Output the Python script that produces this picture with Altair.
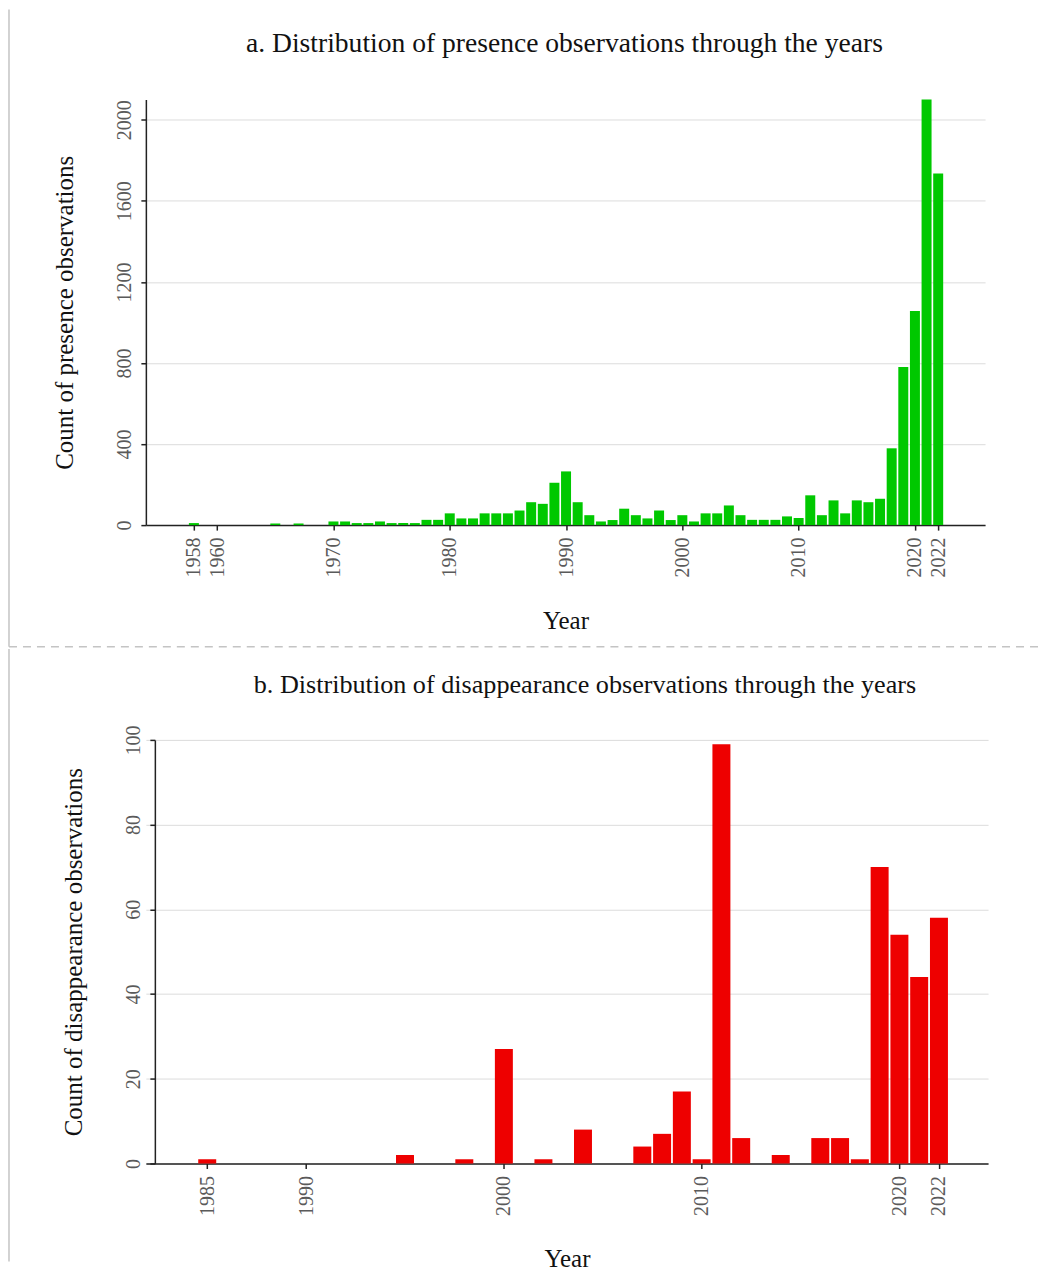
import altair as alt
import pandas as pd

# ---------------- data ----------------
pres_years = [1958, 1965, 1967, 1970, 1971, 1972, 1973, 1974, 1975, 1976, 1977, 1978, 1979,
              1980, 1981, 1982, 1983, 1984, 1985, 1986, 1987, 1988, 1989,
              1990, 1991, 1992, 1993, 1994, 1995, 1996, 1997, 1998, 1999,
              2000, 2001, 2002, 2003, 2004, 2005, 2006, 2007, 2008, 2009,
              2010, 2011, 2012, 2013, 2014, 2015, 2016, 2017, 2018, 2019,
              2020, 2021, 2022]
pres_counts = [10, 8, 8, 18, 18, 10, 10, 18, 10, 10, 10, 26, 26,
               58, 33, 33, 58, 58, 58, 72, 113, 105, 209,
               265, 113, 49, 18, 25, 81, 49, 33, 72, 25,
               49, 18, 58, 58, 97, 49, 26, 26, 26, 43,
               35, 147, 49, 122, 58, 122, 113, 130, 379, 780,
               1057, 2100, 1735]

dis_years = [1985, 1995, 1998, 2000, 2002, 2004, 2007, 2008, 2009, 2010,
             2011, 2012, 2014, 2016, 2017, 2018, 2019, 2020, 2021, 2022]
dis_counts = [1, 2, 1, 27, 1, 8, 4, 7, 17, 1,
              99, 6, 2, 6, 6, 1, 70, 54, 44, 58]

pres_xticks = [1958, 1960, 1970, 1980, 1990, 2000, 2010, 2020, 2022]
pres_yticks = [0, 400, 800, 1200, 1600, 2000]
dis_xticks = [1985, 1990, 2000, 2010, 2020, 2022]
dis_yticks = [0, 20, 40, 60, 80, 100]

title_a = "a. Distribution of presence observations through the years"
title_b = "b. Distribution of disappearance observations through the years"

pres_df = pd.DataFrame({"year": pres_years, "count": pres_counts})
dis_df = pd.DataFrame({"year": dis_years, "count": dis_counts})
one = pd.DataFrame({"k": [0]})

FONT = "Liberation Serif"
GREEN = "#00C800"
RED = "#EE0000"
BORDER = "#c4c4c4"

def yaxis(title, values, offset=0):
    return alt.Axis(values=values, title=title, labelAngle=270, labelAlign="center",
                    labelBaseline="bottom", labelPadding=6, grid=True, titlePadding=37,
                    format="d", offset=offset)

def xaxis(values):
    return alt.Axis(values=values, title="Year", labelAngle=270, labelAlign="right",
                    labelBaseline="middle", labelPadding=7, grid=False, titlePadding=31,
                    format="d")

# ---------------- panel a ----------------
W1, H1 = 840, 426
bars_a = alt.Chart(pres_df).mark_bar(color=GREEN, size=10).encode(
    x=alt.X("year:Q", scale=alt.Scale(domain=[1954.3, 2025.6], nice=False, zero=False),
            axis=xaxis(pres_xticks)),
    y=alt.Y("count:Q", scale=alt.Scale(domain=[0, 2100], nice=False),
            axis=yaxis("Count of presence observations", pres_yticks)),
)
border_a = alt.Chart(one).mark_rule(color=BORDER, strokeWidth=1.5).encode(
    x=alt.value(-137), y=alt.value(-90), y2=alt.value(547.7))
dash_a = alt.Chart(one).mark_rule(color=BORDER, strokeWidth=1.5, strokeDash=[8, 6]).encode(
    x=alt.value(-137), x2=alt.value(895), y=alt.value(547.7))
text_a = alt.Chart(one).mark_text(text=title_a, font=FONT, fontSize=27.6, color="#111111",
                                  align="center", baseline="middle").encode(
    x=alt.value(419), y=alt.value(-56))
panel_a = alt.layer(bars_a, border_a, dash_a, text_a).properties(width=W1, height=H1)

# ---------------- panel b ----------------
# plot area starts at the same x as panel a; the y axis is moved 9px into it
W2, H2 = 843, 424
bars_b = alt.Chart(dis_df).mark_bar(color=RED, size=18).encode(
    x=alt.X("year:Q", scale=alt.Scale(domain=[1982.15, 2024.23], nice=False, zero=False),
            axis=xaxis(dis_xticks)),
    y=alt.Y("count:Q", scale=alt.Scale(domain=[0, 100], nice=False),
            axis=yaxis("Count of disappearance observations", dis_yticks, offset=-9)),
)
border_b = alt.Chart(one).mark_rule(color=BORDER, strokeWidth=1.5).encode(
    x=alt.value(-137), y=alt.value(-91), y2=alt.value(522))
text_b = alt.Chart(one).mark_text(text=title_b, font=FONT, fontSize=26.2, color="#111111",
                                  align="center", baseline="middle").encode(
    x=alt.value(439.5), y=alt.value(-55))
panel_b = alt.layer(bars_b, border_b, text_b).properties(width=W2, height=H2)

chart = alt.vconcat(panel_a, panel_b, spacing=0).properties(
    padding=0, background="white"
).configure_view(stroke=None).configure_axis(
    domainColor="#222222", domainWidth=1.5, tickColor="#222222", tickWidth=1.5, tickSize=5,
    labelFont=FONT, labelFontSize=20, labelColor="#5a5a5a",
    titleFont=FONT, titleFontSize=25, titleFontWeight="normal", titleColor="#111111",
    gridColor="#dcdcdc", gridWidth=1,
)

chart.save("out.html", embed_options={"renderer": "svg", "actions": False})
